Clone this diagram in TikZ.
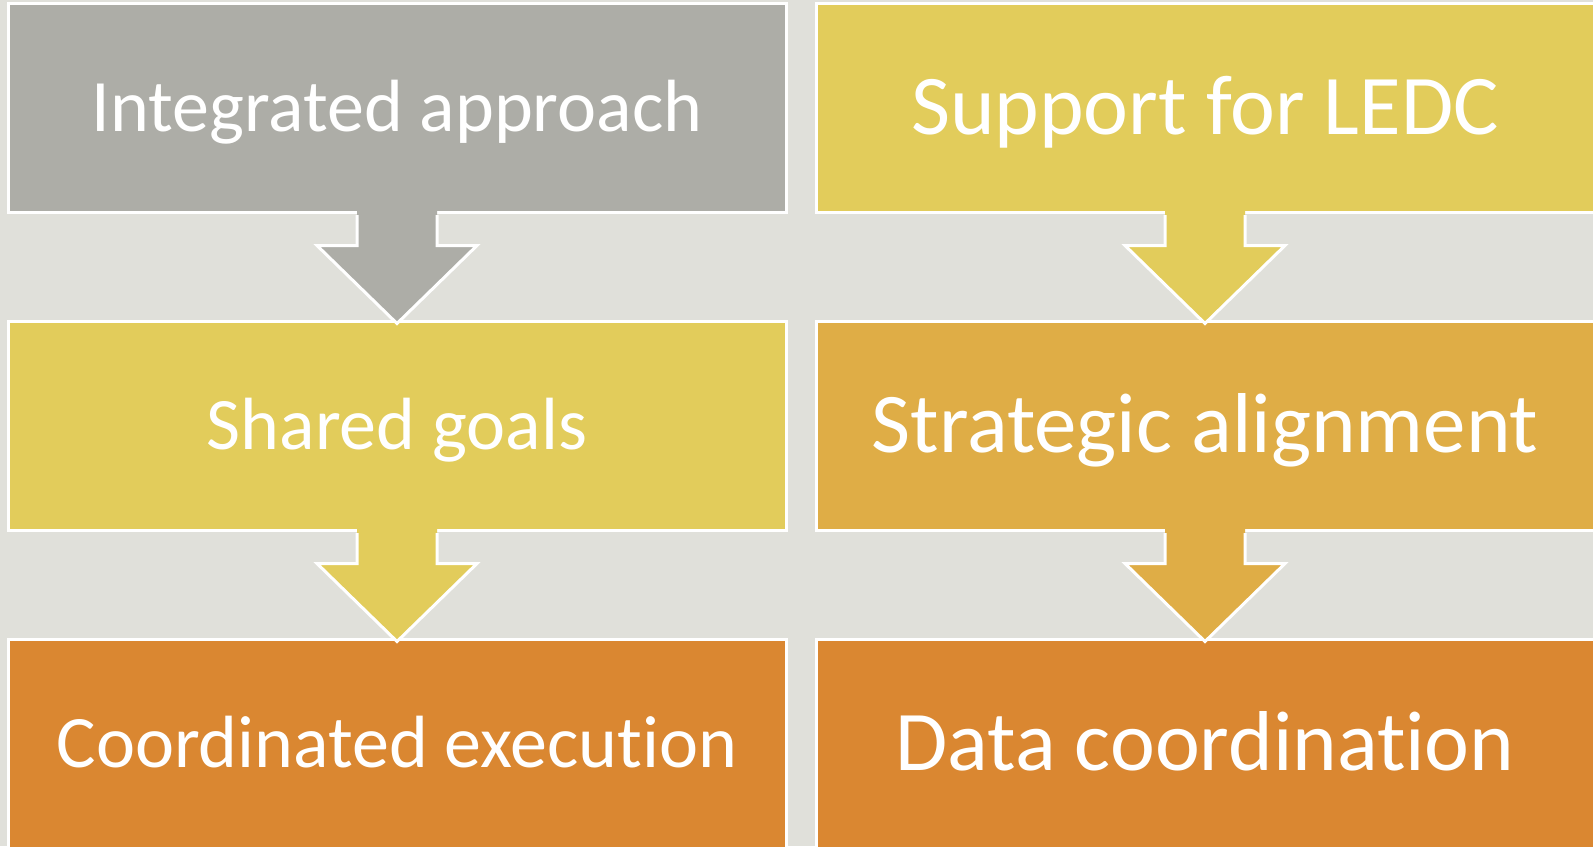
\documentclass[tikz,border=0pt]{standalone}
\usepackage{fontspec}
\setmainfont{Carlito}[Ligatures=NoCommon]
\usepackage{tikz}
\usetikzlibrary{positioning}

\definecolor{backgr}{HTML}{E0E0DA}
\definecolor{grayfill}{HTML}{ADADA7}
\definecolor{yellowfill}{HTML}{E2CC5B}
\definecolor{mustardfill}{HTML}{DFAD46}
\definecolor{orangefill}{HTML}{DA8731}

\begin{document}
\begin{tikzpicture}[auto, node distance=53pt, thick]
    % Estilos de las cajas
    \tikzstyle{box} = [draw=white, line width=1.5pt, rectangle, minimum width=389pt, minimum height=104.5pt, text=white, text depth=0pt, inner sep=0pt]
    \tikzstyle{small} = [font=\fontsize{37}{44}\selectfont, text height=23.8pt]
    \tikzstyle{large} = [font=\fontsize{42.5}{50}\selectfont, text height=27.3pt]

    % Fondo
    \fill[backgr] (0,0) rectangle (796.5pt,-423pt);
    \useasboundingbox (0,0) rectangle (796.5pt,-423pt);

    % Columna izquierda
    \node [box, small, fill=grayfill] at (198.5pt,-53.75pt) (ia) {Integrated approach};
    \node [box, small, fill=yellowfill, below=of ia] (sg) {Shared goals};
    \node [box, small, fill=orangefill, below=of sg] (ce) {Coordinated execution};

    % Columna derecha
    \node [box, large, fill=yellowfill, right=13.5pt of ia] (sl) {Support for LEDC};
    \node [box, large, fill=mustardfill, below=of sl] (sa) {Strategic alignment};
    \node [box, large, fill=orangefill, below=of sa] (dc) {Data coordination};

    % Flechas de bloque entre cajas
    \foreach \from/\to/\col in {ia/sg/grayfill, sg/ce/yellowfill, sl/sa/yellowfill, sa/dc/mustardfill} {
        \begin{scope}[shift={(\from.south)}]
            \fill[\col] (-20pt,2pt) -- (-20pt,-16pt) -- (-40pt,-16pt) -- (0,-55pt) -- (40pt,-16pt) -- (20pt,-16pt) -- (20pt,2pt) -- cycle;
            \draw[white, line width=1.5pt, line join=miter] (-20pt,-0.75pt) -- (-20pt,-16pt) -- (-40pt,-16pt) -- (0,-55pt) -- (40pt,-16pt) -- (20pt,-16pt) -- (20pt,-0.75pt);
        \end{scope}
    }
\end{tikzpicture}
\end{document}
